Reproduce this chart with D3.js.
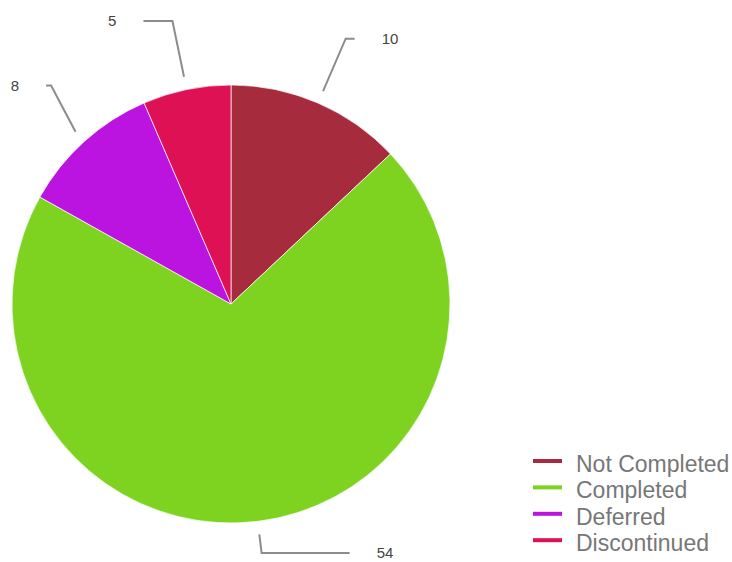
<!DOCTYPE html>
<html>
<head>
<meta charset="utf-8">
<script src="https://cdn.jsdelivr.net/npm/d3@7/dist/d3.min.js"></script>
<style>
  html, body { margin: 0; padding: 0; background: #fff; }
  svg { display: block; }
</style>
</head>
<body>
<svg id="chart" width="732" height="562"></svg>
<script>
// ---- data ----
const categories = ["Not Completed", "Completed", "Deferred", "Discontinued"];
const values = [10, 54, 8, 5];
const colors = ["#a62b3c", "#7ed321", "#bb14e0", "#de1155"];
// leader layout (styling): horizontal tail length, elbow radius offset, elbow angle nudge (deg)
const leaderTail = [9, 88, 5, 29];
const leaderReach = [70, 70, 64, 70];
const leaderNudge = [0, 0, 2.6, 0];

// ---- layout ----
const W = 732, H = 562;
const cx = 231, cy = 304, R = 219;
const svg = d3.select("#chart");

const data = categories.map((c, i) => ({
  name: c, value: values[i], color: colors[i],
  tail: leaderTail[i], reach: leaderReach[i], nudge: leaderNudge[i]
}));

const pie = d3.pie().sort(null).value(d => d.value).startAngle(0).endAngle(2 * Math.PI);
const arc = d3.arc().innerRadius(0).outerRadius(R);
const arcs = pie(data);

const g = svg.append("g").attr("transform", `translate(${cx},${cy})`);
g.selectAll("path.slice")
  .data(arcs)
  .enter().append("path")
  .attr("class", "slice")
  .attr("d", arc)
  .attr("fill", d => d.data.color)
  .attr("stroke", "#ffffff")
  .attr("stroke-width", 0.7);

// leader lines + labels
const maxDown = H - 9 - cy;
arcs.forEach(d => {
  const a = (d.startAngle + d.endAngle) / 2;
  const a1 = a + d.data.nudge * Math.PI / 180;
  const r0 = R + 13;
  const c1 = -Math.cos(a1);
  let r1 = R + d.data.reach;
  if (c1 > 0 && r1 * c1 > maxDown) r1 = maxDown / c1;
  const p0 = [Math.sin(a) * r0, -Math.cos(a) * r0];
  const p1 = [Math.sin(a1) * r1, c1 * r1];
  const dir = Math.sin(a) >= 0 ? 1 : -1;
  const p2 = [p1[0] + dir * d.data.tail, p1[1]];
  g.append("path")
    .attr("d", d3.line()([p0, p1, p2]))
    .attr("fill", "none")
    .attr("stroke", "#8c8c8c")
    .attr("stroke-width", 2);
  g.append("text")
    .attr("x", p2[0] + dir * 27)
    .attr("y", p2[1] + 5)
    .attr("text-anchor", dir > 0 ? "start" : "end")
    .attr("font-family", "Liberation Sans, Arial, sans-serif")
    .attr("font-size", 15)
    .attr("fill", "#444")
    .text(d.data.value);
});

// legend
const legend = svg.append("g").attr("transform", "translate(533,461)");
const rowH = 26.4;
const items = legend.selectAll("g.item").data(data).enter().append("g")
  .attr("class", "item")
  .attr("transform", (d, i) => `translate(0,${i * rowH})`);
items.append("rect")
  .attr("x", 0).attr("y", -2)
  .attr("width", 29).attr("height", 4)
  .attr("fill", d => d.color);
items.append("text")
  .attr("x", 43).attr("y", 11)
  .attr("font-family", "Liberation Sans, Arial, sans-serif")
  .attr("font-size", 23)
  .attr("fill", "#777")
  .text(d => d.name);
</script>
</body>
</html>
